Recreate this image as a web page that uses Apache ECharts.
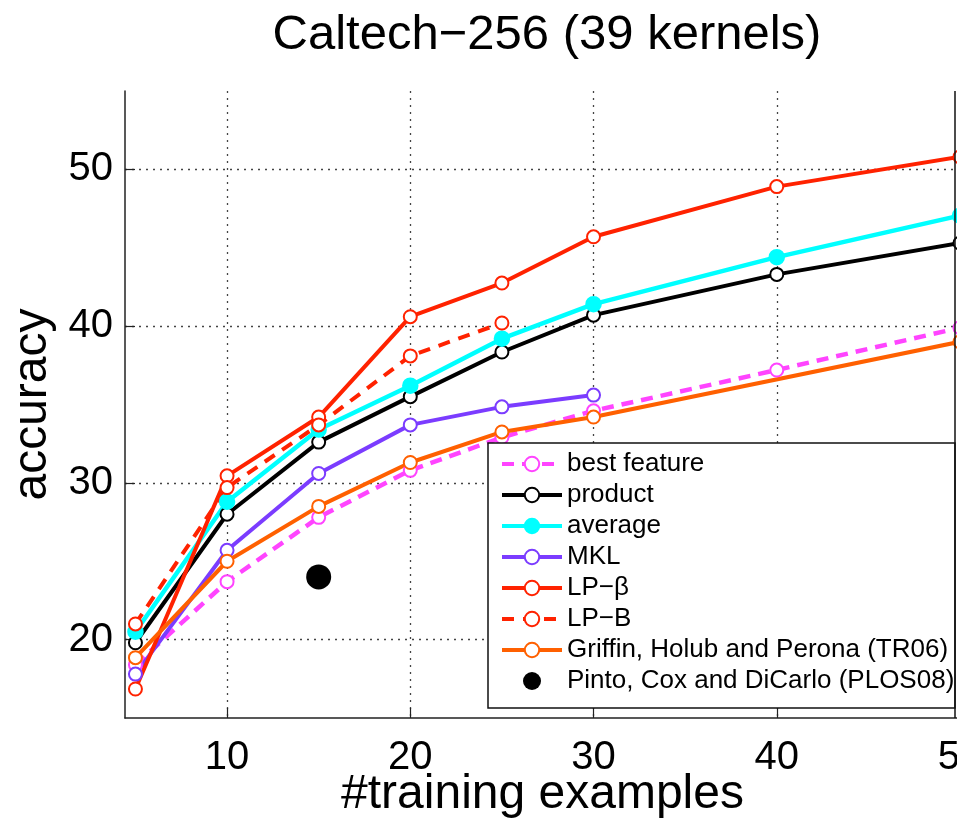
<!DOCTYPE html>
<html>
<head>
<meta charset="utf-8">
<script src="https://cdn.jsdelivr.net/npm/echarts@6/dist/echarts.min.js"></script>
<style>
html,body{margin:0;padding:0;background:#fff;}
#chart{width:957px;height:820px;}
</style>
</head>
<body>
<div id="chart"></div>
<script>
// ---- data ----
var xs = [5, 10, 15, 20, 25, 30, 40, 50];
var bestFeature = [18.4, 23.7, 27.8, 30.8, 32.9, 34.6, 37.2, 39.9];
var product = [19.8, 28.0, 32.6, 35.5, 38.35, 40.7, 43.3, 45.3];
var average = [20.5, 28.8, 33.4, 36.2, 39.2, 41.4, 44.4, 47.05];
var mklX = [5, 10, 15, 20, 25, 30];
var mkl = [17.8, 25.7, 30.6, 33.7, 34.85, 35.6];
var lpBeta = [16.85, 30.45, 34.2, 40.6, 42.75, 45.7, 48.9, 50.8];
var lpBX = [5, 10, 15, 20, 25];
var lpB = [21.0, 29.7, 33.7, 38.1, 40.2];
var griffinX = [5, 10, 15, 20, 25, 30, 50];
var griffin = [18.85, 25.0, 28.5, 31.3, 33.25, 34.2, 39.0];
var pintoX = [15];
var pinto = [24.0];
var seriesNames = ['best feature', 'product', 'average', 'MKL', 'LP\u2212\u03b2', 'LP\u2212B',
  'Griffin, Holub and Perona (TR06)', 'Pinto, Cox and DiCarlo (PLOS08)'];
var yTicks = [20, 30, 40, 50];
var xTicks = [10, 20, 30, 40, 50];

function pairs(x, y) { return x.map(function (v, i) { return [v, y[i]]; }); }

var FONT = 'Liberation Sans, Arial, Helvetica, sans-serif';

function lineSeries(name, x, y, color, opts) {
  opts = opts || {};
  return {
    name: name,
    type: 'line',
    data: pairs(x, y),
    symbol: opts.symbol || 'emptyCircle',
    symbolSize: opts.size || 13,
    showAllSymbol: true,
    lineStyle: { color: color, width: opts.width || 4, type: opts.dash || 'solid' },
    itemStyle: { color: color, borderColor: color, borderWidth: 3.5 },
    z: opts.z || 2
  };
}

var chart = echarts.init(document.getElementById('chart'), null, { renderer: 'canvas' });
chart.setOption({
  animation: false,
  backgroundColor: '#fff',
  title: {
    text: 'Caltech\u2212256 (39 kernels)',
    left: 547, top: 11, textAlign: 'center', padding: 0,
    textStyle: { fontFamily: FONT, fontSize: 49, fontWeight: 'normal', color: '#000' }
  },
  grid: { left: 125, right: -3, top: 91, bottom: 102, containLabel: false, outerBoundsMode: 'none' },
  xAxis: {
    type: 'value', min: 4.43, max: 50, splitNumber: 5,
    name: '#training examples', nameLocation: 'middle', nameGap: 53, nameMoveOverlap: false,
    nameTextStyle: { fontFamily: FONT, fontSize: 48, color: '#000' },
    axisLine: { show: true, onZero: false, lineStyle: { color: '#222', width: 1.5 } },
    axisTick: { show: true, inside: true, length: 10, lineStyle: { color: '#222', width: 1.2 } },
    axisLabel: {
      fontFamily: FONT, fontSize: 40, color: '#000', margin: 20, showMinLabel: false, hideOverlap: false,
      formatter: function (v) { return xTicks.indexOf(v) >= 0 ? String(v) : ''; }
    },
    splitLine: { show: true, showMinLine: false, lineStyle: { color: '#444', width: 1.3, type: [2, 5] } }
  },
  yAxis: {
    type: 'value', min: 15, max: 55, splitNumber: 4,
    name: 'accuracy', nameLocation: 'middle', nameGap: 68, nameMoveOverlap: false,
    nameTextStyle: { fontFamily: FONT, fontSize: 48, color: '#000' },
    axisLine: { show: true, onZero: false, lineStyle: { color: '#222', width: 1.5 } },
    axisTick: { show: true, inside: true, length: 10, lineStyle: { color: '#222', width: 1.2 } },
    axisLabel: {
      fontFamily: FONT, fontSize: 40, color: '#000', margin: 12, showMinLabel: false, showMaxLabel: false,
      formatter: function (v) { return yTicks.indexOf(v) >= 0 ? String(v) : ''; }
    },
    splitLine: { show: true, showMinLine: false, showMaxLine: false, lineStyle: { color: '#444', width: 1.3, type: [2, 5] } }
  },
  legend: {
    orient: 'vertical', left: 500, top: 451, padding: 0, z: 10,
    itemWidth: 60, itemHeight: 18, itemGap: 5, selectedMode: false,
    lineStyle: { width: 4 },
    textStyle: { fontFamily: FONT, fontSize: 26, color: '#000' },
    data: seriesNames
  },
  graphic: [
    { type: 'rect', z: 5, shape: { x: 488, y: 443, width: 467, height: 265 },
      style: { fill: '#fff', stroke: '#111', lineWidth: 1.5 } },
    { type: 'line', z: 10, shape: { x1: 955, y1: 91, x2: 955, y2: 718 },
      style: { stroke: '#111', lineWidth: 1.5 } }
  ],
  series: [
    lineSeries(seriesNames[0], xs, bestFeature, '#ff44ff', { dash: [12, 8], width: 4.5 }),
    lineSeries(seriesNames[1], xs, product, '#000000', {}),
    lineSeries(seriesNames[2], xs, average, '#00ffff', { symbol: 'circle', width: 4.5 }),
    lineSeries(seriesNames[3], mklX, mkl, '#7b3cff', {}),
    lineSeries(seriesNames[4], xs, lpBeta, '#ff2200', {}),
    lineSeries(seriesNames[5], lpBX, lpB, '#ff2200', { dash: [12, 9], width: 4 }),
    lineSeries(seriesNames[6], griffinX, griffin, '#ff6000', {}),
    {
      name: seriesNames[7], type: 'scatter', data: pairs(pintoX, pinto),
      symbol: 'circle', symbolSize: 25, itemStyle: { color: '#000', opacity: 1 }, z: 3
    }
  ]
});
</script>
</body>
</html>
